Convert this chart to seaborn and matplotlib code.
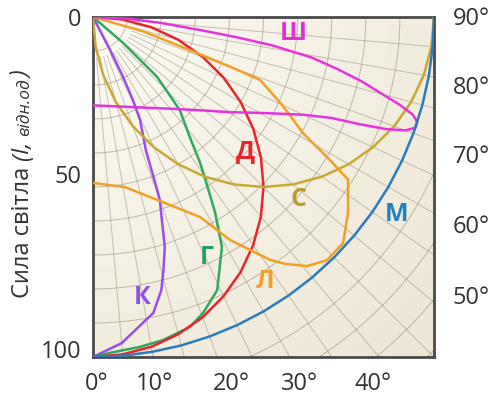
import numpy as np
import pandas as pd
import matplotlib
matplotlib.use('Agg')
import matplotlib.pyplot as plt
import seaborn as sns

# angle from the downward vertical (deg) and relative intensity
k_angle = [0, 5, 11.5, 14, 15.5, 17.3, 18.7, 20, 20.3, 20.7, 21.6, 24.5, 25.6, 26.6, 27.3, 28]
k_int = [100, 96.3, 88.8, 82.8, 77.3, 70.8, 63, 57.3, 54.2, 49.7, 42.1, 33.3, 27.1, 19.7, 10.9, 0]

g_angle = [0, 2.9, 8.1, 12.2, 17.3, 20.3, 24.4, 26.8, 29.2, 31.9, 34.1, 36.2, 38.8, 42.9,
           46.9, 49.2, 51]
g_int = [100, 98.9, 98, 97.2, 95.5, 92.9, 88.2, 82.4, 77.5, 67.8, 59.6, 53.2, 45.3, 37.4,
         25.7, 11.6, 0]

step_angle = [0, 5, 10, 15, 20, 25, 30, 35, 40, 45, 50, 55, 60, 65, 70, 75, 80, 85, 90]
d_int = [100, 99.6, 98.5, 96.6, 94, 90.6, 86.6, 81.9, 76.6, 70.7, 64.3, 57.4, 50,
         42.3, 34.2, 25.9, 17.4, 8.7, 0]
m_int = [100] * 19
s_int = [0, 8.7, 17.4, 25.9, 34.2, 42.3, 50, 57.4, 64.3, 70.7, 76.6, 81.9, 86.6,
         90.6, 94, 96.6, 98.5, 99.6, 100]

l_angle = [0, 10.6, 19.3, 28.1, 31.5, 36, 37.8, 40.6, 43.8, 47.8, 52.4, 57.4, 58.8, 61,
           65, 69.3, 70, 71.1, 74, 78]
l_int = [48.8, 50.9, 57, 66.7, 76.9, 88.3, 91.9, 96.5, 99.1, 99, 94.4, 88.8, 81.3, 70.4,
         61.2, 52.4, 43, 30, 15, 0]

sh_angle = [0, 10, 20, 30, 40, 50, 55, 60, 65, 67, 68, 69, 70, 71, 72, 73, 74, 75,
            76.5, 78, 79.5, 81, 82, 83, 85, 87, 90]
sh_int = [26, 26.6, 28.1, 30.8, 35.2, 42.8, 48.8, 56.4, 68, 76, 84, 92, 97.5, 100, 100,
          98, 93.5, 88, 81, 73, 65, 53, 42, 32, 20, 11, 0]

curve_names = ['К', 'Г', 'Д', 'С', 'Л', 'Ш', 'М']
line_colors = ['#9a4cf0', '#2daa5c', '#e8242c', '#c8a834', '#f2a024', '#e832e0', '#2b7bbe']
text_colors = ['#9050e8', '#28a060', '#e8242c', '#b89c2c', '#f0a030', '#e030d8', '#2080c0']
# label centres in pixels of the original picture
label_px = [(142, 298), (207, 258), (245, 152), (298, 200), (265, 282), (293, 33), (397, 215)]

left_ticks = ['0', '50', '100']
left_px = [20, 177, 352]
right_ticks = ['90°', '80°', '70°', '60°', '50°']
right_px = [19, 88, 157, 227, 298]
bottom_ticks = ['0°', '10°', '20°', '30°', '40°']
bottom_px = [97, 154, 231, 300, 373]

sns.set_theme(style='white')
plt.rcParams['font.family'] = ['Open Sans', 'DejaVu Sans']

W, H = 493, 398
fig = plt.figure(figsize=(W / 100, H / 100), dpi=100)
ax = fig.add_axes([93 / W, 41 / H, 341 / W, 340 / H])


def to_xy(angle, intensity):
    t = np.radians(angle)
    r = np.asarray(intensity, dtype=float)
    return r * np.sin(t), r * np.cos(t)


def px(x, y):
    return x / W, 1 - y / H


# background: light at the lamp, beige towards the far corner
gx, gy = np.meshgrid(np.linspace(0, 100, 200), np.linspace(0, 100, 200))
dist = np.clip(np.hypot(gx, gy) / 141, 0, 1)
c0 = np.array([253, 251, 245]) / 255
c1 = np.array([236, 230, 211]) / 255
ax.imshow(c0 + (c1 - c0) * dist[..., None], extent=[0, 100, 100, 0],
          origin='upper', aspect='auto', zorder=0)

# polar grid round the lamp in the top left corner
t = np.radians(np.linspace(0, 90, 200))
for r in range(10, 150, 10):
    ax.plot(r * np.sin(t), r * np.cos(t), color='#8a8068', lw=0.7, alpha=0.5, zorder=1)
for a in range(5, 90, 5):
    ar = np.radians(a)
    ax.plot([12 * np.sin(ar), 150 * np.sin(ar)], [12 * np.cos(ar), 150 * np.cos(ar)],
            color='#8a8068', lw=0.7, alpha=0.45, zorder=1)

curves = [(k_angle, k_int), (g_angle, g_int), (step_angle, d_int), (step_angle, s_int),
          (l_angle, l_int), (sh_angle, sh_int), (step_angle, m_int)]
for (ang, val), name, col in zip(curves, curve_names, line_colors):
    x, y = to_xy(ang, val)
    df = pd.DataFrame({'x': x, 'y': y})
    sns.lineplot(data=df, x='x', y='y', sort=False, estimator=None, color=col,
                 lw=1.8, ax=ax, zorder=3)

for name, col, (lx, ly) in zip(curve_names, text_colors, label_px):
    fx, fy = px(lx, ly)
    fig.text(fx, fy, name, color=col, fontsize=18, fontweight='bold',
             ha='center', va='center')

ax.set_xlim(0, 100)
ax.set_ylim(100, 0)
ax.set_xticks([])
ax.set_yticks([])
ax.set_xlabel('')
ax.set_ylabel('')
for sp in ax.spines.values():
    sp.set_visible(True)
    sp.set_color('#4a4a4a')
    sp.set_linewidth(2)

for lab, y in zip(left_ticks, left_px):
    fig.text(*px(81, y), lab, fontsize=17, color='#333333', ha='right', va='center')
for lab, y in zip(right_ticks, right_px):
    fig.text(*px(453, y), lab, fontsize=17, color='#333333', ha='left', va='center')
for lab, x in zip(bottom_ticks, bottom_px):
    fig.text(*px(x, 384), lab, fontsize=17, color='#333333', ha='center', va='center')

# rotated axis title built from pieces with different styles
renderer = fig.canvas.get_renderer()
pieces = [('Сила світла ', 17, 'normal'), ('(', 17, 'italic'), ('I, ', 17, 'italic'),
          ('відн.од', 12.5, 'italic'), (')', 17, 'italic')]
ypos = 298
for s, size, style in pieces:
    txt = fig.text(*px(29, ypos), s, fontsize=size, style=style, color='#333333',
                   rotation=90, ha='left', va='baseline', rotation_mode='anchor')
    ext = txt.get_window_extent(renderer)
    ypos -= ext.height

fig.savefig('out.png', dpi=100)
